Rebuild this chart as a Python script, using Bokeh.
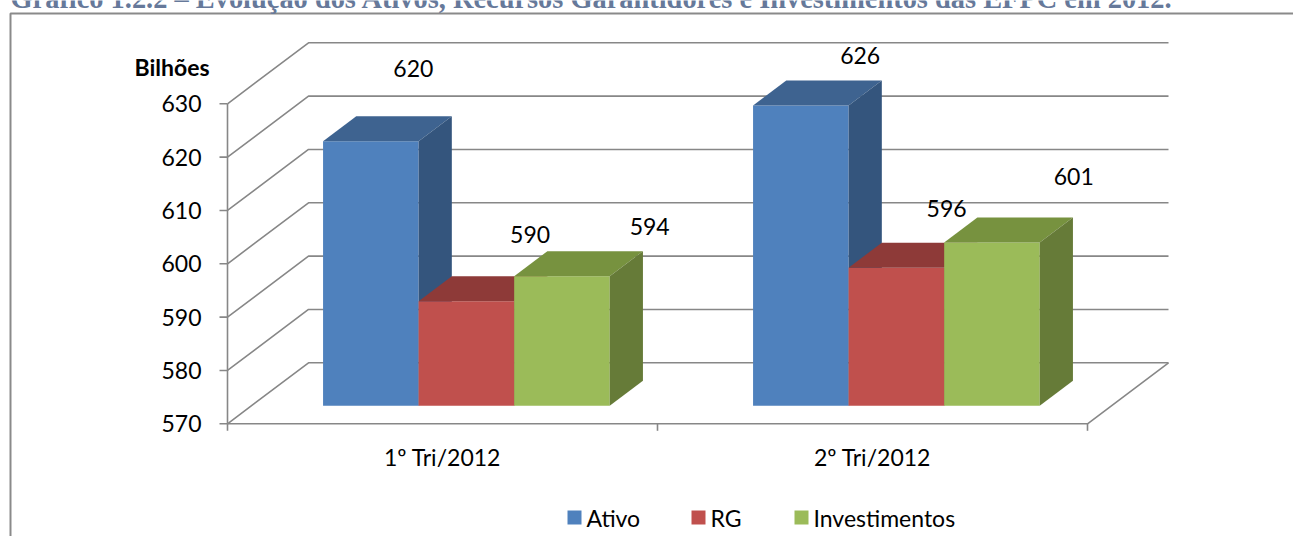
from bokeh.plotting import figure
from bokeh.models import Range1d
from bokeh.core.properties import value
from bokeh.embed import file_html
from bokeh.resources import INLINE

# ---------------- data ----------------
title_text = "Gráfico 1.2.2 – Evolução dos Ativos, Recursos Garantidores e Investimentos das EFPC em 2012."
categories = ["1º Tri/2012", "2º Tri/2012"]
series = ["Ativo", "RG", "Investimentos"]
ativo = [619.6, 626.3]
rg = [589.6, 595.9]
investimentos = [594.3, 600.6]
y_ticks = [570, 580, 590, 600, 610, 620, 630]
y_unit = "Bilhões"

# ---------------- styles / layout ----------------
front_colors = ["#4F81BD", "#C0504D", "#9BBB59"]
top_colors = ["#3E6390", "#8E3A38", "#77923F"]
side_colors = ["#34557D", "#7A302E", "#667B38"]
grid_color = "#878787"
FONT = "Lato"
FS = "23px"

W, H = 1293, 536
ORIGIN = 0
X0_PX, CAT_PX = 227.0, 430.0      # front-left corner of floor, px per category
Y0_PX, VAL_PX = 423.3, 5.333      # baseline of value axis, px per unit
YMIN = y_ticks[0]
DEPTH_DX_PX, DEPTH_DY_PX = 81.0, 61.0
F0, F1 = 0.295, 0.705             # bar depth band (fraction of wall depth)
GAP = 1.5                         # gap width (fraction of bar width)

def xd(px):
    return (px - X0_PX) / CAT_PX

def yd(py):
    return YMIN + (Y0_PX - py) / VAL_PX

DXu = DEPTH_DX_PX / CAT_PX
DYu = DEPTH_DY_PX / VAL_PX
ncat = len(categories)

p = figure(width=W, height=H,
           x_range=Range1d(xd(ORIGIN), xd(ORIGIN + W)),
           y_range=Range1d(yd(ORIGIN + H), yd(ORIGIN)),
           output_backend="svg", toolbar_location=None,
           x_axis_type=None, y_axis_type=None, min_border=0)
p.outline_line_color = None
p.background_fill_color = "white"
p.border_fill_color = "white"

# frame border around the chart and clipped title
p.line([xd(10), xd(10), xd(ORIGIN + W + 5)], [yd(ORIGIN + H + 5), yd(13), yd(13)],
       line_color="#8a8a8a", line_width=2)
p.text([xd(10)], [yd(-2.5)], text=[title_text], text_font=value("Liberation Serif"),
       text_font_style="bold", text_font_size="28.4px", text_color="#66799A",
       text_align="left", text_baseline="middle")

# walls / gridlines
gx, gy = [], []
for t in y_ticks:
    gx.append([0, DXu, ncat + DXu])
    gy.append([t, t + DYu, t + DYu])
gx.append([0, ncat, ncat + DXu]); gy.append([YMIN, YMIN, YMIN + DYu])
gx.append([0, 0]); gy.append([YMIN, y_ticks[-1]])
for t in y_ticks:
    gx.append([xd(X0_PX - 8), 0]); gy.append([t, t])
for c in range(ncat + 1):
    gx.append([c, c]); gy.append([YMIN, YMIN - 7 / VAL_PX])
p.multi_line(gx, gy, line_color=grid_color, line_width=1.6)

# tick labels
p.text([xd(201)] * len(y_ticks), y_ticks, text=[str(t) for t in y_ticks],
       text_font=value(FONT), text_font_size=FS, text_color="#000000",
       text_align="right", text_baseline="middle")
p.text([xd(171.5)], [yd(66.7)], text=[y_unit], text_font=value(FONT),
       text_font_style="bold", text_font_size=FS, text_color="#000000",
       text_align="center", text_baseline="middle")
p.text([c + 0.5 for c in range(ncat)], [yd(Y0_PX + 33.5)] * ncat, text=categories,
       text_font=value(FONT), text_font_size=FS, text_color="#000000",
       text_align="center", text_baseline="middle")

# 3D bars
bar_w = 1.0 / (len(series) + GAP)
ox0, oy0 = F0 * DXu, F0 * DYu
ddx, ddy = (F1 - F0) * DXu, (F1 - F0) * DYu
all_vals = [ativo, rg, investimentos]
for i, vals in enumerate(all_vals):
    L, R, B, T = [], [], [], []
    txs, tys, sxs, sys_ = [], [], [], []
    for c, v in enumerate(vals):
        xl = c + 0.5 - len(series) * bar_w / 2 + i * bar_w + ox0
        xr = xl + bar_w
        yb = YMIN + oy0
        yt = v + oy0
        L.append(xl); R.append(xr); B.append(yb); T.append(yt)
        txs.append([xl, xr, xr + ddx, xl + ddx]); tys.append([yt, yt, yt + ddy, yt + ddy])
        sxs.append([xr, xr + ddx, xr + ddx, xr]); sys_.append([yb, yb + ddy, yt + ddy, yt])
    p.quad(left=L, right=R, bottom=B, top=T, fill_color=front_colors[i], line_color=None)
    p.patches(txs, tys, fill_color=top_colors[i], line_color=None)
    p.patches(sxs, sys_, fill_color=side_colors[i], line_color=None)

# data labels (offsets in px from the front-top centre of each bar)
label_dx = [[42.5, 59.3], [63.7, 50.2], [87.7, 81.8]]
label_dy = [[-73.0, -50.0], [-66.5, -59.5], [-49.7, -66.1]]
lx, ly, lt = [], [], []
for i, vals in enumerate(all_vals):
    for c, v in enumerate(vals):
        xc = c + 0.5 - len(series) * bar_w / 2 + (i + 0.5) * bar_w + ox0
        lx.append(xc + label_dx[i][c] / CAT_PX)
        ly.append(v + oy0 - label_dy[i][c] / VAL_PX)
        lt.append(f"{v:.0f}")
p.text(lx, ly, text=lt, text_font=value(FONT), text_font_size=FS,
       text_color="#000000", text_align="center", text_baseline="middle")

# legend
leg_sq_px = [567, 691, 794]
leg_y_px = 517
p.scatter([xd(x + 7) for x in leg_sq_px], [yd(leg_y_px)] * 3, marker="square", size=14,
          fill_color=front_colors, line_color=None)
p.text([xd(x + 19) for x in leg_sq_px], [yd(leg_y_px)] * 3, text=series,
       text_font=value(FONT), text_font_size=FS, text_color="#000000",
       text_align="left", text_baseline="middle")

open("out.html", "w").write(file_html(p, INLINE))
